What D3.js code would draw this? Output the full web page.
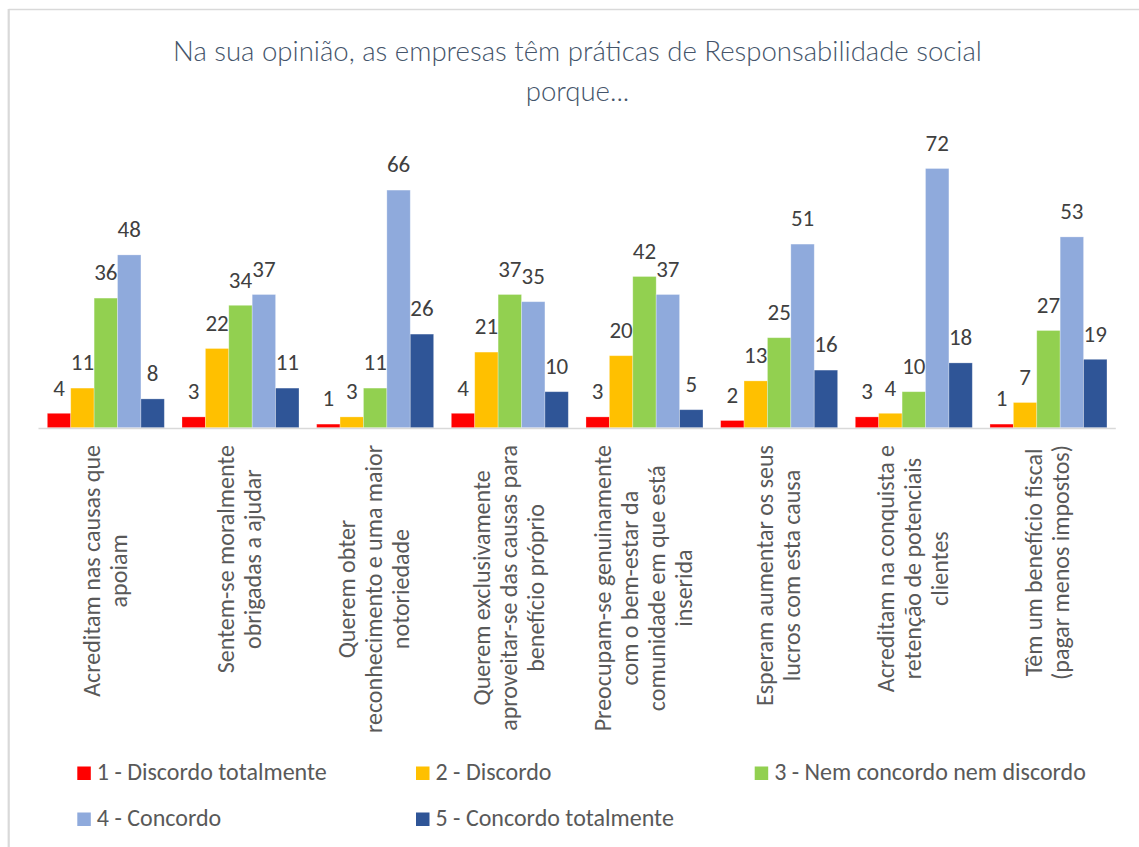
<!DOCTYPE html>
<html>
<head>
<meta charset="utf-8">
<script src="https://cdn.jsdelivr.net/npm/d3@7"></script>
<style>
  html, body { margin: 0; padding: 0; background: #ffffff; }
  svg { display: block; }
</style>
</head>
<body>
<svg id="chart" width="1139" height="847"></svg>
<script>
// ---------------- DATA ----------------
const titleLines = ["Na sua opinião, as empresas têm práticas de Responsabilidade social", "porque..."];

const categories = [
  ["Acreditam nas causas que", "apoiam"],
  ["Sentem-se moralmente", "obrigadas a ajudar"],
  ["Querem obter", "reconhecimento e uma maior", "notoriedade"],
  ["Querem exclusivamente", "aproveitar-se das causas para", "benefício próprio"],
  ["Preocupam-se genuinamente", "com o bem-estar da", "comunidade em que está", "inserida"],
  ["Esperam aumentar os seus", "lucros com esta causa"],
  ["Acreditam na conquista e", "retenção de potenciais", "clientes"],
  ["Têm um benefício fiscal", "(pagar menos impostos)"]
];

const seriesNames = [
  "1 - Discordo totalmente",
  "2 - Discordo",
  "3 - Nem concordo nem discordo",
  "4 - Concordo",
  "5 - Concordo totalmente"
];

const discordoTotalmente = [4, 3, 1, 4, 3, 2, 3, 1];
const discordo           = [11, 22, 3, 21, 20, 13, 4, 7];
const nemConcordo        = [36, 34, 11, 37, 42, 25, 10, 27];
const concordo           = [48, 37, 66, 35, 37, 51, 72, 53];
const concordoTotalmente = [8, 11, 26, 10, 5, 16, 18, 19];

const seriesColors = ["#FF0000", "#FFC000", "#92D050", "#8FAADC", "#2F5597"];

const seriesValues = [discordoTotalmente, discordo, nemConcordo, concordo, concordoTotalmente];

// ---------------- LAYOUT ----------------
const svg = d3.select("#chart");
const W = 1139, H = 847;
const plot = { left: 38.5, right: 1115.8, top: 139.7, bottom: 427.7 };
const FONT = "Carlito, Lato, 'Open Sans', sans-serif";
const TITLE_FONT = "Lato, 'Open Sans', sans-serif";

function fitSize(text, family, weight, target) {
  const t = svg.append("text").attr("font-family", family).attr("font-weight", weight)
    .attr("font-size", 100).text(text);
  const len = t.node().getComputedTextLength();
  t.remove();
  return 100 * target / len;
}

// chart border (only top and left visible)
svg.append("line").attr("x1", 8.7).attr("x2", W).attr("y1", 9.5).attr("y2", 9.5)
  .attr("stroke", "#d9d9d9").attr("stroke-width", 1.3);
svg.append("line").attr("x1", 8.7).attr("x2", 8.7).attr("y1", 9).attr("y2", H)
  .attr("stroke", "#d9d9d9").attr("stroke-width", 2.2);

// title
const titleSize = fitSize(titleLines[0], TITLE_FONT, 300, 809);
svg.append("g").selectAll("text").data(titleLines).join("text")
  .attr("x", 577.5)
  .attr("y", (d, i) => 61 + i * 40)
  .attr("text-anchor", "middle")
  .attr("font-family", TITLE_FONT)
  .attr("font-weight", 300)
  .attr("font-size", titleSize)
  .attr("fill", "#44546A")
  .text(d => d);

// scales
const x0 = d3.scaleBand().domain(d3.range(categories.length))
  .range([plot.left, plot.right]).paddingInner(0).paddingOuter(0);
const groupPad = 8.83;
const x1 = d3.scaleBand().domain(d3.range(seriesNames.length))
  .range([groupPad, x0.bandwidth() - groupPad]).padding(0);
const y = d3.scaleLinear().domain([0, 80]).range([plot.bottom, plot.top]);

// bars
const groups = svg.append("g").selectAll("g").data(categories).join("g")
  .attr("transform", (d, i) => `translate(${x0(i)},0)`);

groups.each(function(cat, ci) {
  const g = d3.select(this);
  const vals = seriesValues.map((s, si) => ({ si, v: s[ci] }));
  g.selectAll("rect").data(vals).join("rect")
    .attr("x", d => x1(d.si))
    .attr("width", x1.bandwidth())
    .attr("y", d => y(d.v))
    .attr("height", d => y(0) - y(d.v))
    .attr("fill", d => seriesColors[d.si])
    .attr("stroke", "#ffffff")
    .attr("stroke-opacity", 0.35)
    .attr("stroke-width", 0.8);
});

// axis line
svg.append("line")
  .attr("x1", plot.left).attr("x2", plot.right)
  .attr("y1", y(0) + 0.8).attr("y2", y(0) + 0.8)
  .attr("stroke", "#d9d9d9").attr("stroke-width", 1.6);

// data labels
const labelSize = fitSize("53", FONT, 400, 23.3);
groups.each(function(cat, ci) {
  const g = d3.select(this);
  const vals = seriesValues.map((s, si) => ({ si, v: s[ci] }));
  g.selectAll("text.val").data(vals).join("text")
    .attr("class", "val")
    .attr("x", d => x1(d.si) + x1.bandwidth() / 2)
    .attr("y", d => y(d.v) - 17.7)
    .attr("text-anchor", "middle")
    .attr("font-family", FONT)
    .attr("font-size", labelSize)
    .attr("fill", "#404040")
    .text(d => d.v);
});

// category labels (rotated, top aligned, lines centred)
const catSize = fitSize("Acreditam nas causas que", FONT, 400, 252);
const lineH = 27;
const labelTop = 445;
const axisLabels = svg.append("g");
categories.forEach((lines, ci) => {
  const cx = x0(ci) + x0.bandwidth() / 2;
  const g = axisLabels.append("g");
  const texts = g.selectAll("text").data(lines).join("text")
    .attr("font-family", FONT)
    .attr("font-size", catSize)
    .attr("fill", "#595959")
    .attr("text-anchor", "middle")
    .attr("x", 0)
    .attr("y", (d, i) => (i - (lines.length - 1) / 2) * lineH + 0.3 * catSize)
    .text(d => d);
  let maxLen = 0;
  texts.each(function() { maxLen = Math.max(maxLen, this.getComputedTextLength()); });
  g.attr("transform", `translate(${cx},${labelTop + maxLen / 2}) rotate(-90)`);
});

// legend
const legendSize = fitSize(seriesNames[0], FONT, 400, 230);
const legendCols = [77.3, 416, 754.7];
const legendRows = [766.5, 812.5];
const legend = svg.append("g");
seriesNames.forEach((name, i) => {
  const lx = legendCols[i % 3];
  const ly = legendRows[Math.floor(i / 3)];
  legend.append("rect").attr("x", lx).attr("y", ly).attr("width", 13.5).attr("height", 13.5)
    .attr("fill", seriesColors[i]);
  legend.append("text").attr("x", lx + 19.5).attr("y", ly + 13.8)
    .attr("font-family", FONT).attr("font-size", legendSize).attr("fill", "#595959")
    .text(name);
});
</script>
</body>
</html>
